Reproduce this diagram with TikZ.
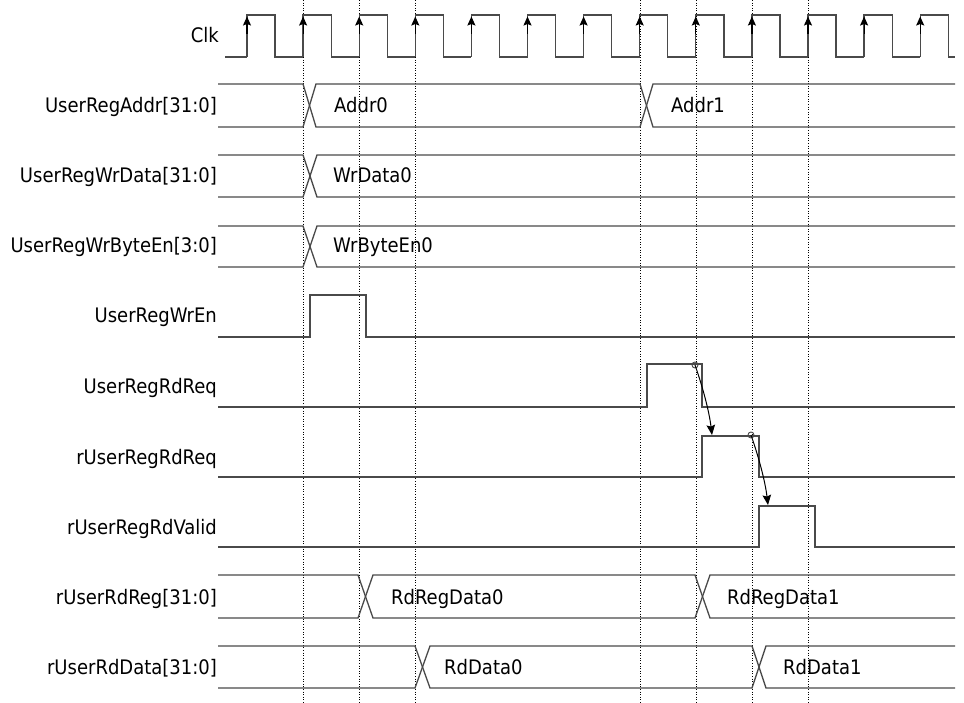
\documentclass[tikz,border=0pt]{standalone}
\usepackage{fontspec}
\setmainfont{DejaVu Sans Condensed}
\usetikzlibrary{arrows.meta}
\definecolor{sigcol}{HTML}{4A4A4A}
\begin{document}
\begin{tikzpicture}[x=1pt,y=-1pt,
  sig/.style={draw=sigcol,line width=1.3pt,line join=miter},
  gridline/.style={draw=black,line width=0.8pt,dash pattern=on 1pt off 1.6pt},
  lbl/.style={anchor=base east,inner sep=0pt,font=\fontsize{20}{24}\selectfont},
  val/.style={anchor=base west,inner sep=0pt,font=\fontsize{20}{24}\selectfont},
  clkarrow/.style={draw=black,line width=1.2pt,-{Stealth[length=9pt,width=8pt,inset=1.5pt]}},
  causal/.style={draw=black,line width=1pt,-{Stealth[length=10pt,width=8.5pt,inset=1.5pt]}},
  dot/.style={draw=sigcol,line width=0.9pt}]
\useasboundingbox[fill=white] (0,0) rectangle (964,703);

% dotted reference lines
\foreach \x in {303,359,415,640,696,752,808}
  \draw[gridline] (\x,0) -- (\x,703);

% labels
\node[lbl] (lclk)   at (219,43)  {Clk};
\node[lbl] (laddr)  at (217,113) {UserRegAddr[31:0]};
\node[lbl] (lwd)    at (217,183) {UserRegWrData[31:0]};
\node[lbl] (lbe)    at (217,253) {UserRegWrByteEn[3:0]};
\node[lbl] (lwe)    at (217,323) {UserRegWrEn};
\node[lbl] (lrq)    at (217,393) {UserRegRdReq};
\node[lbl] (lrrq)   at (217,464) {rUserRegRdReq};
\node[lbl] (lrv)    at (217,534) {rUserRegRdValid};
\node[lbl] (lrreg)  at (217,604) {rUserRdReg[31:0]};
\node[lbl] (lrdat)  at (217,674) {rUserRdData[31:0]};

% clock
\draw[sig] (225,57) -- (247,57);
\foreach \k in {0,...,12} {
  \pgfmathsetmacro\r{247+56.1*\k}
  \pgfmathsetmacro\f{\r+28.05}
  \pgfmathsetmacro\n{min(\r+56.1,955)}
  \draw[sig] (\r,57) -- (\r,15) -- (\f,15) -- (\f,57) -- (\n,57);
  \draw[clkarrow] (\r,34) -- (\r,16.5);
}

% UserRegAddr
\draw[sig] (218,84) -- (303,84) -- (316,127) -- (640,127) -- (653,84) -- (955,84);
\draw[sig] (218,127) -- (303,127) -- (316,84) -- (640,84) -- (653,127) -- (955,127);
\node[val] (vaddr0) at (334,113) {Addr0};
\node[val] (vaddr1) at (671,113) {Addr1};

% UserRegWrData
\draw[sig] (218,155) -- (303,155) -- (317,197) -- (955,197);
\draw[sig] (218,197) -- (303,197) -- (317,155) -- (955,155);
\node[val] (vwd0) at (333,183) {WrData0};

% UserRegWrByteEn
\draw[sig] (218,226) -- (303,226) -- (317,267) -- (955,267);
\draw[sig] (218,267) -- (303,267) -- (317,226) -- (955,226);
\node[val] (vbe0) at (333,253) {WrByteEn0};

% UserRegWrEn
\draw[sig] (218,337) -- (310,337) -- (310,295) -- (366,295) -- (366,337) -- (955,337);

% UserRegRdReq
\draw[sig] (218,407) -- (647,407) -- (647,364) -- (702,364) -- (702,407) -- (955,407);

% rUserRegRdReq
\draw[sig] (218,477) -- (702,477) -- (702,436) -- (759,436) -- (759,477) -- (955,477);

% rUserRegRdValid
\draw[sig] (218,547) -- (759,547) -- (759,506) -- (815,506) -- (815,547) -- (955,547);

% rUserRdReg
\draw[sig] (218,575) -- (358,575) -- (373,618) -- (695,618) -- (710,575) -- (955,575);
\draw[sig] (218,618) -- (358,618) -- (373,575) -- (695,575) -- (710,618) -- (955,618);
\node[val] (vrreg0) at (391,604) {RdRegData0};
\node[val] (vrreg1) at (727,604) {RdRegData1};

% rUserRdData
\draw[sig] (218,646) -- (415,646) -- (430,688) -- (752,688) -- (766,646) -- (955,646);
\draw[sig] (218,688) -- (415,688) -- (430,646) -- (752,646) -- (766,688) -- (955,688);
\node[val] (vrd0) at (444,674) {RdData0};
\node[val] (vrd1) at (783,674) {RdData1};

% causality arrows
\coordinate (c1) at (695,365);
\coordinate (t1) at (712,435);
\coordinate (c2) at (751,435);
\coordinate (t2) at (768,505);
\draw[dot] (c1) circle (3);
\draw[dot] (c2) circle (3);
\draw[causal] (c1) .. controls (702,385) and (709,410) .. (t1);
\draw[causal] (c2) .. controls (758,455) and (765,480) .. (t2);
\end{tikzpicture}
\end{document}
